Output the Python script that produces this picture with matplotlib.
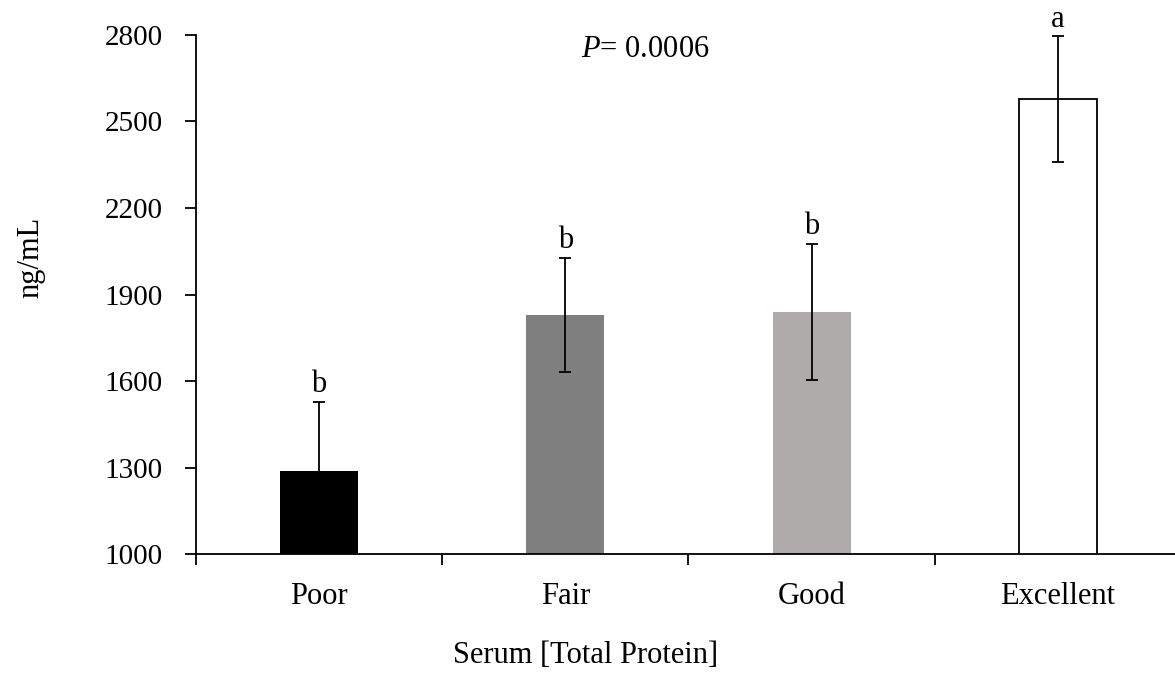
import numpy as np
import matplotlib.pyplot as plt

plt.rcParams['font.family'] = ['Liberation Serif', 'DejaVu Serif']
plt.rcParams['mathtext.fontset'] = 'custom'
plt.rcParams['mathtext.it'] = 'Liberation Serif:italic'
plt.rcParams['mathtext.rm'] = 'Liberation Serif'

categories = ['Poor', 'Fair', 'Good', 'Excellent']
means = [1288, 1829, 1839, 2578]
errors = [239, 198, 236, 217]
letters = ['b', 'b', 'b', 'a']
colors = ['#000000', '#7f7f7f', '#aeabaa', '#ffffff']

fig = plt.figure(figsize=(11.75, 6.73), dpi=100)
ax = fig.add_axes([0.1668, 0.1768, 0.8383, 0.7712])

x = np.arange(len(categories))
ax.bar(x, means, width=0.317, color=colors, edgecolor=['none', 'none', 'none', 'black'],
       linewidth=1.3, zorder=2)
ax.errorbar(x, means, yerr=errors, fmt='none', ecolor='black', elinewidth=1.3,
            capsize=4.5, capthick=1.3, zorder=3)

for xi, m, e, l in zip(x, means, errors, letters):
    ax.annotate(l, (xi, m + e), xytext=(0, 2), textcoords='offset points',
                ha='center', va='bottom', fontsize=22)

ax.text(0.456, 0.972, '$P$= 0.0006', transform=ax.transAxes,
        ha='center', va='center', fontsize=22)

ax.set_xlim(-0.5, 3.5)
ax.set_ylim(1000, 2800)
ax.set_yticks([1000, 1300, 1600, 1900, 2200, 2500, 2800])
ax.set_xticks([-0.5, 0.5, 1.5, 2.5, 3.5])
ax.set_xticklabels([])
ax.set_xticks(x, minor=True)
ax.set_xticklabels(categories, minor=True)
ax.tick_params(axis='x', which='minor', length=0, pad=20, labelsize=22)
ax.tick_params(axis='x', which='major', length=8, width=1.3, direction='out')
ax.tick_params(axis='y', length=8, width=1.3, direction='out', labelsize=21, pad=16)

ax.spines['top'].set_visible(False)
ax.spines['right'].set_visible(False)
ax.spines['left'].set_linewidth(1.3)
ax.spines['bottom'].set_linewidth(1.3)

fig.text(0.4985, 0.026, 'Serum [Total Protein]', ha='center', va='center', fontsize=22)
fig.text(0.026, 0.617, 'ng/mL', rotation=90, ha='center', va='center', fontsize=22)

fig.savefig('out.png', dpi=100)
